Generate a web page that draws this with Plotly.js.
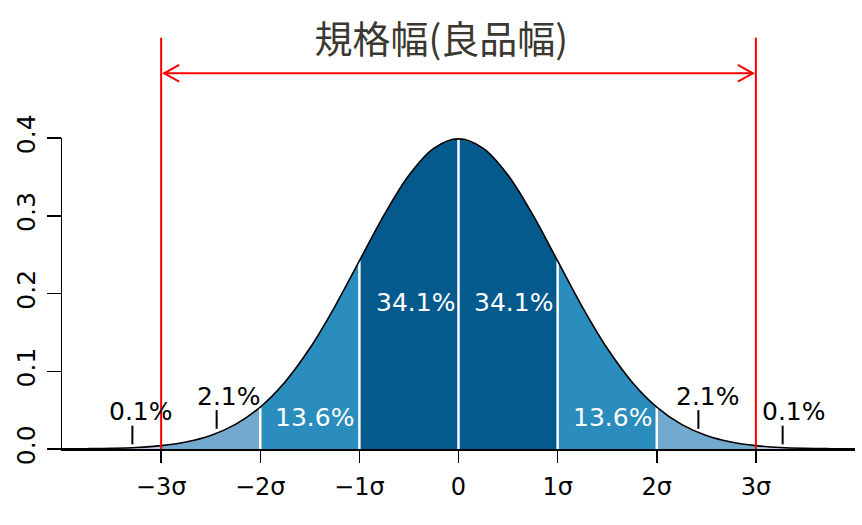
<!DOCTYPE html>
<html>
<head>
<meta charset="utf-8">
<script src="https://cdn.plot.ly/plotly-3.0.1.min.js"></script>
<style>html,body{margin:0;padding:0;background:#fff;}#chart{width:862px;height:525px;}</style>
</head>
<body>
<div id="chart"></div>
<script>
// Curve samples (x in σ units, density)
const xs = [-4,-3.75,-3.5,-3.25,-3,-2.75,-2.5,-2.25,-2,-1.75,-1.5,-1.25,-1,-0.75,-0.5,-0.25,0,0.25,0.5,0.75,1,1.25,1.5,1.75,2,2.25,2.5,2.75,3,3.25,3.5,3.75,4];
const density = [0.0001,0.0004,0.0009,0.0020,0.0044,0.0091,0.0175,0.0317,0.0540,0.0863,0.1295,0.1826,0.2420,0.3011,0.3521,0.3867,0.3989,0.3867,0.3521,0.3011,0.2420,0.1826,0.1295,0.0863,0.0540,0.0317,0.0175,0.0091,0.0044,0.0020,0.0009,0.0004,0.0001];

// Bands
const bandEdges = [[-4,-3],[-3,-2],[-2,-1],[-1,0],[0,1],[1,2],[2,3],[3,4]];
const bandColors = ['#bdc9e1','#74a9cf','#2b8cbe','#045a8d','#045a8d','#2b8cbe','#74a9cf','#bdc9e1'];
const dividers = [-2,-1,0,1,2];

// Percent labels
const inLabels = ['34.1%','34.1%','13.6%','13.6%'];
const inLabelX = [-0.43,0.55,-1.45,1.55];
const inLabelY = [0.189,0.189,0.041,0.041];
const outLabels = ['0.1%','2.1%','2.1%','0.1%'];
const outLabelX = [-3.2,-2.32,2.52,3.38];
const outLabelY = [0.048,0.067,0.067,0.048];
const pointerX = [-3.29,-2.44,2.42,3.27];
const pointerY0 = [0.006,0.026,0.026,0.006];
const pointerY1 = [0.030,0.050,0.050,0.030];

// Axis ticks
const xTickVals = [-3,-2,-1,0,1,2,3];
const xTickText = ['\u22123\u03c3','\u22122\u03c3','\u22121\u03c3','0','1\u03c3','2\u03c3','3\u03c3'];
const yTickVals = [0,0.1,0.2,0.3,0.4];

// Spec limits
const specLimits = [-3,3];
const titleText = '規格幅(良品幅)';

const traces = [];
bandEdges.forEach((b,i)=>{
  const bx=[], by=[];
  xs.forEach((x,j)=>{ if (x>=b[0]-1e-9 && x<=b[1]+1e-9){ bx.push(x); by.push(density[j]); } });
  traces.push({x:bx,y:by,type:'scatter',mode:'lines',fill:'tozeroy',fillcolor:bandColors[i],
    line:{width:0,shape:'spline',color:bandColors[i]},hoverinfo:'skip',showlegend:false});
});
dividers.forEach(d=>{
  const j = xs.indexOf(d);
  traces.push({x:[d,d],y:[0,density[j]],type:'scatter',mode:'lines',line:{color:'#ffffff',width:2.5},hoverinfo:'skip',showlegend:false});
});
traces.push({x:xs,y:density,type:'scatter',mode:'lines',line:{color:'#000000',width:1.6,shape:'spline'},hoverinfo:'skip',showlegend:false});
pointerX.forEach((px,i)=>{
  traces.push({x:[px,px],y:[pointerY0[i],pointerY1[i]],type:'scatter',mode:'lines',line:{color:'#000',width:2},hoverinfo:'skip',showlegend:false});
});

const font = 'DejaVu Sans, sans-serif';
const annotations = [];
inLabels.forEach((t,i)=>annotations.push({x:inLabelX[i],y:inLabelY[i],xref:'x',yref:'y',text:t,showarrow:false,font:{family:font,size:25,color:'#ffffff'}}));
outLabels.forEach((t,i)=>annotations.push({x:outLabelX[i],y:outLabelY[i],xref:'x',yref:'y',text:t,showarrow:false,font:{family:font,size:25,color:'#000000'}}));

const arrowY = 1.208, armDx = 0.152, armDy = 0.027, gap = 0.03;
const shapes = [];
specLimits.forEach(s=>shapes.push({type:'line',xref:'x',yref:'paper',x0:s,x1:s,y0:0,y1:1.322,line:{color:'#ff0000',width:2}}));
shapes.push({type:'line',xref:'x',yref:'paper',x0:specLimits[0]+gap,x1:specLimits[1]-gap,y0:arrowY,y1:arrowY,line:{color:'#ff0000',width:2}});
const lt = specLimits[0]+gap, rt = specLimits[1]-gap;
shapes.push({type:'path',xref:'x',yref:'paper',path:`M ${lt+armDx} ${arrowY+armDy} L ${lt} ${arrowY} L ${lt+armDx} ${arrowY-armDy}`,line:{color:'#ff0000',width:2}});
shapes.push({type:'path',xref:'x',yref:'paper',path:`M ${rt-armDx} ${arrowY+armDy} L ${rt} ${arrowY} L ${rt-armDx} ${arrowY-armDy}`,line:{color:'#ff0000',width:2}});

const layout = {
  width:862,height:525,
  margin:{l:62,r:7,t:138,b:76},
  paper_bgcolor:'#ffffff',plot_bgcolor:'#ffffff',
  title:{text:titleText,font:{family:'Noto Sans CJK JP, sans-serif',size:38,color:'#3a3830'},x:0.512,xanchor:'center',y:0.924,yanchor:'middle'},
  xaxis:{range:[-4,4],tickvals:xTickVals,ticktext:xTickText,ticks:'outside',ticklen:12,tickwidth:1.5,tickcolor:'#000',ticklabelstandoff:4,
    showline:true,linecolor:'#000',linewidth:1.5,showgrid:false,zeroline:false,tickfont:{family:font,size:24,color:'#000'},fixedrange:true},
  yaxis:{range:[0,0.4],tickvals:yTickVals,tickformat:'.1f',ticks:'outside',ticklen:14,tickwidth:1.5,tickcolor:'#000',tickangle:-90,ticklabelstandoff:2,
    showline:true,linecolor:'#000',linewidth:1.5,showgrid:false,zeroline:false,tickfont:{family:font,size:25,color:'#000'},fixedrange:true},
  shapes:shapes,
  annotations:annotations,
  showlegend:false
};
Plotly.newPlot('chart',traces,layout,{displayModeBar:false,staticPlot:true});
</script>
</body>
</html>
